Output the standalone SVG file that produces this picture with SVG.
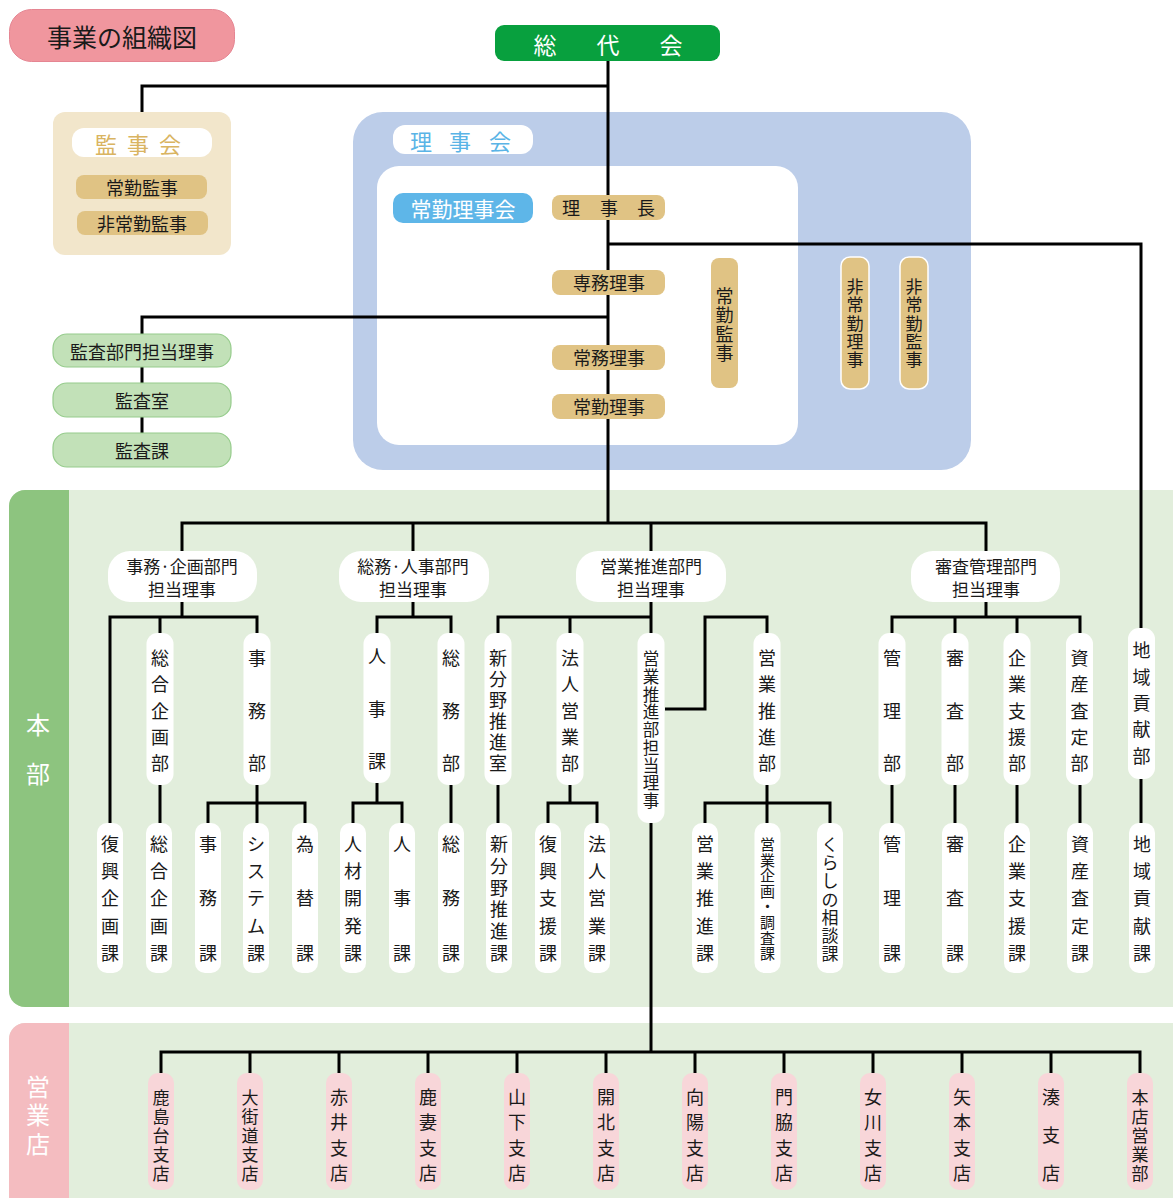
<svg xmlns="http://www.w3.org/2000/svg" width="1173" height="1198" viewBox="0 0 1173 1198">
<style>
text{font-family:"Noto Sans CJK JP","Noto Sans",sans-serif;text-anchor:middle;dominant-baseline:central;fill:#1a1a1a}
.t18{font-size:18px}
.t17{font-size:17px}
.t16{font-size:16.5px}
.t15{font-size:15px}
.ln{stroke:#000;stroke-width:3;fill:none;stroke-linejoin:miter}
.wp{fill:#fff}
.gold{fill:#e0c384}
.gw{fill:#e0c384;stroke:#fff;stroke-width:1.5}
.grn{fill:#c2e1b8;stroke:#96cc8c;stroke-width:1.2}
.pk{fill:#f8d6d9}
</style>
<rect width="1173" height="1198" fill="#fff"/>

<!-- backgrounds -->
<g id="honbu-area">
<rect x="9" y="490" width="1180" height="517" rx="16" fill="#e2eedc"/>
<rect x="9" y="490" width="60" height="517" rx="16" fill="#8dc47f"/>
<rect x="40" y="490" width="29" height="517" fill="#8dc47f"/>
<text x="38" y="723" style="font-size:24px;fill:#fff">本</text>
<text x="38" y="772" style="font-size:24px;fill:#fff">部</text>
</g>
<g id="eigyoten-area">
<rect x="9" y="1023" width="1180" height="200" rx="16" fill="#e2eedc"/>
<rect x="9" y="1023" width="60" height="200" rx="16" fill="#f4bcc0"/>
<rect x="40" y="1023" width="29" height="200" fill="#f4bcc0"/>
<text x="38" y="1085" style="font-size:24px;fill:#fff">営</text>
<text x="38" y="1113" style="font-size:24px;fill:#fff">業</text>
<text x="38" y="1142" style="font-size:24px;fill:#fff">店</text>
</g>
<g id="rijikai-box">
<rect x="353" y="112" width="618" height="358" rx="30" fill="#bccde9"/>
<rect x="393" y="125" width="140" height="29" rx="12" fill="#fff"/>
<text x="421" y="140" style="font-size:22px;fill:#5ab4e6">理</text>
<text x="460" y="140" style="font-size:22px;fill:#5ab4e6">事</text>
<text x="500" y="140" style="font-size:22px;fill:#5ab4e6">会</text>
<rect x="377" y="166" width="421" height="279" rx="22" fill="#fff"/>
</g>
<g id="kanjikai-box">
<rect x="53" y="112" width="178" height="143" rx="12" fill="#f2e6cb"/>
<rect x="72" y="128" width="140" height="29" rx="12" fill="#fff"/>
<text x="106" y="143" style="font-size:22px;fill:#d9b461">監</text>
<text x="138" y="143" style="font-size:22px;fill:#d9b461">事</text>
<text x="170" y="143" style="font-size:22px;fill:#d9b461">会</text>
</g>

<!-- connectors -->
<g id="connectors" class="ln">
<path d="M608 61V523"/>
<path d="M142 112V86H608"/>
<path d="M608 244H1141V628"/>
<path d="M142 433V317H608"/>
<path d="M182 551V523H986V551M413 523V551M651 523V551"/>
<path d="M182 602V617M110 823V617H257V633M160 617V633M160 785V823M257 785V823M208 823V803H305V823"/>
<path d="M413 602V617M377 633V617H451V633M377 783V803M353 823V803H402V823M451 785V823"/>
<path d="M651 602V633M498 633V617H651M570 617V633M665 709H705V617H767V633M498 785V823M570 785V803M548 823V803H597V823M767 785V823M705 823V803H830V823M651 823V1052"/>
<path d="M986 602V617M892 633V617H1080V633M955 617V633M1017 617V633M892 785V823M955 785V823M1017 785V823M1080 785V823M1141 779V823"/>
<path d="M161 1073V1052H1140V1073M250 1052V1073M339 1052V1073M428 1052V1073M517 1052V1073M606 1052V1073M695 1052V1073M784 1052V1073M873 1052V1073M962 1052V1073M1051 1052V1073"/>
</g>

<!-- title -->
<g id="title">
<rect x="9.5" y="9.5" width="225" height="52" rx="22" fill="#f0969e" stroke="#e58592"/>
<text x="122" y="36" style="font-size:25px">事業の組織図</text>
</g>

<g id="soudaikai">
<rect x="495" y="25" width="225" height="36" rx="9" fill="#08a03e"/>
<text x="545" y="44" style="font-size:23px;fill:#fff">総</text>
<text x="608" y="44" style="font-size:23px;fill:#fff">代</text>
<text x="671" y="44" style="font-size:23px;fill:#fff">会</text>
</g>

<g id="joukin-kanji"><rect x="76" y="175" width="131" height="24" rx="8" class="gold"/><text x="142" y="187" class="t18">常勤監事</text></g>
<g id="hijoukin-kanji"><rect x="77" y="211" width="131" height="24" rx="8" class="gold"/><text x="142" y="223" class="t18">非常勤監事</text></g>

<g id="kansa-riji"><rect x="53" y="334" width="178" height="33" rx="14" class="grn"/><text x="142" y="351" class="t18">監査部門担当理事</text></g>
<g id="kansa-shitsu"><rect x="53" y="383" width="178" height="34" rx="14" class="grn"/><text x="142" y="400" class="t18">監査室</text></g>
<g id="kansa-ka"><rect x="53" y="433" width="178" height="34" rx="14" class="grn"/><text x="142" y="450" class="t18">監査課</text></g>

<g id="joukin-rijikai"><rect x="393" y="193" width="140" height="30" rx="10" fill="#5eb6e8"/><text x="463" y="208" style="font-size:21px;fill:#fff">常勤理事会</text></g>
<g id="rijichou"><rect x="552" y="195" width="113" height="25" rx="8" class="gold"/><text x="571" y="207" class="t18">理</text><text x="609" y="207" class="t18">事</text><text x="646" y="207" class="t18">長</text></g>
<g id="senmu"><rect x="552" y="270" width="113" height="25" rx="8" class="gold"/><text x="609" y="282" class="t18">専務理事</text></g>
<g id="joumu"><rect x="552" y="345" width="113" height="25" rx="8" class="gold"/><text x="609" y="357" class="t18">常務理事</text></g>
<g id="joukin-riji"><rect x="552" y="394" width="113" height="25" rx="8" class="gold"/><text x="609" y="406" class="t18">常勤理事</text></g>
<g id="joukin-kanji2"><rect x="711" y="258" width="27" height="130" rx="8" class="gold"/>
<text class="t18"><tspan x="724.5" y="295">常</tspan><tspan x="724.5" y="314">勤</tspan><tspan x="724.5" y="333">監</tspan><tspan x="724.5" y="352">事</tspan></text></g>
<g id="hijoukin-riji"><rect x="841" y="257" width="28" height="132" rx="9" class="gw"/>
<text class="t17"><tspan x="855" y="285">非</tspan><tspan x="855" y="303">常</tspan><tspan x="855" y="321.5">勤</tspan><tspan x="855" y="340">理</tspan><tspan x="855" y="358">事</tspan></text></g>
<g id="hijoukin-kanji3"><rect x="900" y="257" width="28" height="132" rx="9" class="gw"/>
<text class="t17"><tspan x="914" y="285">非</tspan><tspan x="914" y="303">常</tspan><tspan x="914" y="321.5">勤</tspan><tspan x="914" y="340">監</tspan><tspan x="914" y="358">事</tspan></text></g>

<!-- directors -->
<g id="dir-jimu"><rect x="108" y="551" width="149" height="51" rx="22" class="wp"/><text x="182" y="565" class="t17">事務·企画部門</text><text x="182" y="588" class="t17">担当理事</text></g>
<g id="dir-soumu"><rect x="339" y="551" width="150" height="51" rx="22" class="wp"/><text x="413" y="565" class="t17">総務·人事部門</text><text x="413" y="588" class="t17">担当理事</text></g>
<g id="dir-eigyo"><rect x="576" y="551" width="150" height="51" rx="22" class="wp"/><text x="651" y="565" class="t17">営業推進部門</text><text x="651" y="588" class="t17">担当理事</text></g>
<g id="dir-shinsa"><rect x="911" y="551" width="149" height="51" rx="22" class="wp"/><text x="986" y="565" class="t17">審査管理部門</text><text x="986" y="588" class="t17">担当理事</text></g>

<!-- level 1 -->
<g id="sougou-kikaku-bu"><rect x="146.5" y="633" width="27" height="152" rx="11" class="wp"/><text class="t18"><tspan x="160" y="657">総</tspan><tspan x="160" y="683">合</tspan><tspan x="160" y="710">企</tspan><tspan x="160" y="736">画</tspan><tspan x="160" y="762">部</tspan></text></g>
<g id="jimu-bu"><rect x="243.5" y="633" width="27" height="152" rx="11" class="wp"/><text class="t18"><tspan x="257" y="657">事</tspan><tspan x="257" y="710">務</tspan><tspan x="257" y="762">部</tspan></text></g>
<g id="jinji-ka1"><rect x="363.5" y="633" width="27" height="150" rx="11" class="wp"/><text class="t18"><tspan x="377" y="655">人</tspan><tspan x="377" y="708">事</tspan><tspan x="377" y="760">課</tspan></text></g>
<g id="soumu-bu"><rect x="437.5" y="633" width="27" height="152" rx="11" class="wp"/><text class="t18"><tspan x="451" y="657">総</tspan><tspan x="451" y="710">務</tspan><tspan x="451" y="762">部</tspan></text></g>
<g id="shinbunya-shitsu"><rect x="484.5" y="633" width="27" height="152" rx="11" class="wp"/><text class="t18"><tspan x="498" y="657">新</tspan><tspan x="498" y="678">分</tspan><tspan x="498" y="699">野</tspan><tspan x="498" y="720">推</tspan><tspan x="498" y="741">進</tspan><tspan x="498" y="762">室</tspan></text></g>
<g id="houjin-bu"><rect x="556.5" y="633" width="27" height="152" rx="11" class="wp"/><text class="t18"><tspan x="570" y="657">法</tspan><tspan x="570" y="683">人</tspan><tspan x="570" y="710">営</tspan><tspan x="570" y="736">業</tspan><tspan x="570" y="762">部</tspan></text></g>
<g id="eigyo-riji"><rect x="637.5" y="633" width="27" height="190" rx="11" class="wp"/><text class="t16"><tspan x="651" y="658">営</tspan><tspan x="651" y="676">業</tspan><tspan x="651" y="693.5">推</tspan><tspan x="651" y="711">進</tspan><tspan x="651" y="729">部</tspan><tspan x="651" y="747">担</tspan><tspan x="651" y="764.5">当</tspan><tspan x="651" y="782">理</tspan><tspan x="651" y="800">事</tspan></text></g>
<g id="eigyo-suishin-bu"><rect x="753.5" y="633" width="27" height="152" rx="11" class="wp"/><text class="t18"><tspan x="767" y="657">営</tspan><tspan x="767" y="683">業</tspan><tspan x="767" y="710">推</tspan><tspan x="767" y="736">進</tspan><tspan x="767" y="762">部</tspan></text></g>
<g id="kanri-bu"><rect x="878.5" y="633" width="27" height="152" rx="11" class="wp"/><text class="t18"><tspan x="892" y="657">管</tspan><tspan x="892" y="710">理</tspan><tspan x="892" y="762">部</tspan></text></g>
<g id="shinsa-bu"><rect x="941.5" y="633" width="27" height="152" rx="11" class="wp"/><text class="t18"><tspan x="955" y="657">審</tspan><tspan x="955" y="710">査</tspan><tspan x="955" y="762">部</tspan></text></g>
<g id="kigyo-bu"><rect x="1003.5" y="633" width="27" height="152" rx="11" class="wp"/><text class="t18"><tspan x="1017" y="657">企</tspan><tspan x="1017" y="683">業</tspan><tspan x="1017" y="710">支</tspan><tspan x="1017" y="736">援</tspan><tspan x="1017" y="762">部</tspan></text></g>
<g id="shisan-bu"><rect x="1066" y="633" width="27" height="152" rx="11" class="wp"/><text class="t18"><tspan x="1079.5" y="657">資</tspan><tspan x="1079.5" y="683">産</tspan><tspan x="1079.5" y="710">査</tspan><tspan x="1079.5" y="736">定</tspan><tspan x="1079.5" y="762">部</tspan></text></g>
<g id="chiiki-bu"><rect x="1128" y="628" width="27" height="151" rx="11" class="wp"/><text class="t18"><tspan x="1141.5" y="649">地</tspan><tspan x="1141.5" y="676">域</tspan><tspan x="1141.5" y="702">貢</tspan><tspan x="1141.5" y="728">献</tspan><tspan x="1141.5" y="755">部</tspan></text></g>

<!-- level 2 -->
<g id="fukkou-kikaku-ka"><rect x="97" y="823" width="26" height="150" rx="10" class="wp"/><text class="t18"><tspan x="110" y="843">復</tspan><tspan x="110" y="870">興</tspan><tspan x="110" y="897">企</tspan><tspan x="110" y="925">画</tspan><tspan x="110" y="952">課</tspan></text></g>
<g id="sougou-kikaku-ka"><rect x="146" y="823" width="26" height="150" rx="10" class="wp"/><text class="t18"><tspan x="159" y="843">総</tspan><tspan x="159" y="870">合</tspan><tspan x="159" y="897">企</tspan><tspan x="159" y="925">画</tspan><tspan x="159" y="952">課</tspan></text></g>
<g id="jimu-ka"><rect x="195" y="823" width="26" height="150" rx="10" class="wp"/><text class="t18"><tspan x="208" y="843">事</tspan><tspan x="208" y="897">務</tspan><tspan x="208" y="952">課</tspan></text></g>
<g id="system-ka"><rect x="243" y="823" width="26" height="150" rx="10" class="wp"/><text class="t18"><tspan x="256" y="843">シ</tspan><tspan x="256" y="870">ス</tspan><tspan x="256" y="897">テ</tspan><tspan x="256" y="925">ム</tspan><tspan x="256" y="952">課</tspan></text></g>
<g id="kawase-ka"><rect x="292" y="823" width="26" height="150" rx="10" class="wp"/><text class="t18"><tspan x="305" y="843">為</tspan><tspan x="305" y="897">替</tspan><tspan x="305" y="952">課</tspan></text></g>
<g id="jinzai-ka"><rect x="340" y="823" width="26" height="150" rx="10" class="wp"/><text class="t18"><tspan x="353" y="843">人</tspan><tspan x="353" y="870">材</tspan><tspan x="353" y="897">開</tspan><tspan x="353" y="925">発</tspan><tspan x="353" y="952">課</tspan></text></g>
<g id="jinji-ka2"><rect x="389" y="823" width="26" height="150" rx="10" class="wp"/><text class="t18"><tspan x="402" y="843">人</tspan><tspan x="402" y="897">事</tspan><tspan x="402" y="952">課</tspan></text></g>
<g id="soumu-ka"><rect x="438" y="823" width="26" height="150" rx="10" class="wp"/><text class="t18"><tspan x="451" y="843">総</tspan><tspan x="451" y="897">務</tspan><tspan x="451" y="952">課</tspan></text></g>
<g id="shinbunya-ka"><rect x="486" y="823" width="26" height="150" rx="10" class="wp"/><text class="t18"><tspan x="499" y="843">新</tspan><tspan x="499" y="865">分</tspan><tspan x="499" y="887">野</tspan><tspan x="499" y="908">推</tspan><tspan x="499" y="930">進</tspan><tspan x="499" y="952">課</tspan></text></g>
<g id="fukkou-shien-ka"><rect x="535" y="823" width="26" height="150" rx="10" class="wp"/><text class="t18"><tspan x="548" y="843">復</tspan><tspan x="548" y="870">興</tspan><tspan x="548" y="897">支</tspan><tspan x="548" y="925">援</tspan><tspan x="548" y="952">課</tspan></text></g>
<g id="houjin-ka"><rect x="584" y="823" width="26" height="150" rx="10" class="wp"/><text class="t18"><tspan x="597" y="843">法</tspan><tspan x="597" y="870">人</tspan><tspan x="597" y="897">営</tspan><tspan x="597" y="925">業</tspan><tspan x="597" y="952">課</tspan></text></g>
<g id="eigyo-suishin-ka"><rect x="692" y="823" width="26" height="150" rx="10" class="wp"/><text class="t18"><tspan x="705" y="843">営</tspan><tspan x="705" y="870">業</tspan><tspan x="705" y="897">推</tspan><tspan x="705" y="925">進</tspan><tspan x="705" y="952">課</tspan></text></g>
<g id="eigyo-kikaku-ka"><rect x="754.5" y="823" width="26" height="150" rx="10" class="wp"/><text class="t15"><tspan x="767.5" y="843">営</tspan><tspan x="767.5" y="858.5">業</tspan><tspan x="767.5" y="874">企</tspan><tspan x="767.5" y="889.5">画</tspan><tspan x="767.5" y="905">・</tspan><tspan x="767.5" y="921">調</tspan><tspan x="767.5" y="936.5">査</tspan><tspan x="767.5" y="952">課</tspan></text></g>
<g id="kurashi-ka"><rect x="817" y="823" width="26" height="150" rx="10" class="wp"/><text class="t17"><tspan x="830" y="843">く</tspan><tspan x="830" y="861">ら</tspan><tspan x="830" y="879">し</tspan><tspan x="830" y="897.5">の</tspan><tspan x="830" y="915.5">相</tspan><tspan x="830" y="934">談</tspan><tspan x="830" y="952">課</tspan></text></g>
<g id="kanri-ka"><rect x="879" y="823" width="26" height="150" rx="10" class="wp"/><text class="t18"><tspan x="892" y="843">管</tspan><tspan x="892" y="897">理</tspan><tspan x="892" y="952">課</tspan></text></g>
<g id="shinsa-ka"><rect x="942" y="823" width="26" height="150" rx="10" class="wp"/><text class="t18"><tspan x="955" y="843">審</tspan><tspan x="955" y="897">査</tspan><tspan x="955" y="952">課</tspan></text></g>
<g id="kigyo-ka"><rect x="1004" y="823" width="26" height="150" rx="10" class="wp"/><text class="t18"><tspan x="1017" y="843">企</tspan><tspan x="1017" y="870">業</tspan><tspan x="1017" y="897">支</tspan><tspan x="1017" y="925">援</tspan><tspan x="1017" y="952">課</tspan></text></g>
<g id="shisan-ka"><rect x="1067" y="823" width="26" height="150" rx="10" class="wp"/><text class="t18"><tspan x="1080" y="843">資</tspan><tspan x="1080" y="870">産</tspan><tspan x="1080" y="897">査</tspan><tspan x="1080" y="925">定</tspan><tspan x="1080" y="952">課</tspan></text></g>
<g id="chiiki-ka"><rect x="1129" y="823" width="26" height="150" rx="10" class="wp"/><text class="t18"><tspan x="1142" y="843">地</tspan><tspan x="1142" y="870">域</tspan><tspan x="1142" y="897">貢</tspan><tspan x="1142" y="925">献</tspan><tspan x="1142" y="952">課</tspan></text></g>

<!-- branches -->
<g id="br-kashimadai"><rect x="148" y="1073" width="26" height="117" rx="10" class="pk"/><text class="t17"><tspan x="161" y="1096">鹿</tspan><tspan x="161" y="1115">島</tspan><tspan x="161" y="1134">台</tspan><tspan x="161" y="1153">支</tspan><tspan x="161" y="1172">店</tspan></text></g>
<g id="br-ookaidou"><rect x="237" y="1073" width="26" height="117" rx="10" class="pk"/><text class="t17"><tspan x="250" y="1096">大</tspan><tspan x="250" y="1115">街</tspan><tspan x="250" y="1134">道</tspan><tspan x="250" y="1153">支</tspan><tspan x="250" y="1172">店</tspan></text></g>
<g id="br-akai"><rect x="326" y="1073" width="26" height="117" rx="10" class="pk"/><text class="t18"><tspan x="339" y="1096">赤</tspan><tspan x="339" y="1121">井</tspan><tspan x="339" y="1147">支</tspan><tspan x="339" y="1172">店</tspan></text></g>
<g id="br-kazuma"><rect x="415" y="1073" width="26" height="117" rx="10" class="pk"/><text class="t18"><tspan x="428" y="1096">鹿</tspan><tspan x="428" y="1121">妻</tspan><tspan x="428" y="1147">支</tspan><tspan x="428" y="1172">店</tspan></text></g>
<g id="br-yamashita"><rect x="504" y="1073" width="26" height="117" rx="10" class="pk"/><text class="t18"><tspan x="517" y="1096">山</tspan><tspan x="517" y="1121">下</tspan><tspan x="517" y="1147">支</tspan><tspan x="517" y="1172">店</tspan></text></g>
<g id="br-kaihoku"><rect x="593" y="1073" width="26" height="117" rx="10" class="pk"/><text class="t18"><tspan x="606" y="1096">開</tspan><tspan x="606" y="1121">北</tspan><tspan x="606" y="1147">支</tspan><tspan x="606" y="1172">店</tspan></text></g>
<g id="br-kouyou"><rect x="682" y="1073" width="26" height="117" rx="10" class="pk"/><text class="t18"><tspan x="695" y="1096">向</tspan><tspan x="695" y="1121">陽</tspan><tspan x="695" y="1147">支</tspan><tspan x="695" y="1172">店</tspan></text></g>
<g id="br-kadonowaki"><rect x="771" y="1073" width="26" height="117" rx="10" class="pk"/><text class="t18"><tspan x="784" y="1096">門</tspan><tspan x="784" y="1121">脇</tspan><tspan x="784" y="1147">支</tspan><tspan x="784" y="1172">店</tspan></text></g>
<g id="br-onagawa"><rect x="860" y="1073" width="26" height="117" rx="10" class="pk"/><text class="t18"><tspan x="873" y="1096">女</tspan><tspan x="873" y="1121">川</tspan><tspan x="873" y="1147">支</tspan><tspan x="873" y="1172">店</tspan></text></g>
<g id="br-yamoto"><rect x="949" y="1073" width="26" height="117" rx="10" class="pk"/><text class="t18"><tspan x="962" y="1096">矢</tspan><tspan x="962" y="1121">本</tspan><tspan x="962" y="1147">支</tspan><tspan x="962" y="1172">店</tspan></text></g>
<g id="br-minato"><rect x="1038" y="1073" width="26" height="117" rx="10" class="pk"/><text class="t18"><tspan x="1051" y="1096">湊</tspan><tspan x="1051" y="1134">支</tspan><tspan x="1051" y="1172">店</tspan></text></g>
<g id="br-honten"><rect x="1127" y="1073" width="26" height="117" rx="10" class="pk"/><text class="t17"><tspan x="1140" y="1096">本</tspan><tspan x="1140" y="1115">店</tspan><tspan x="1140" y="1134">営</tspan><tspan x="1140" y="1153">業</tspan><tspan x="1140" y="1172">部</tspan></text></g>
</svg>
